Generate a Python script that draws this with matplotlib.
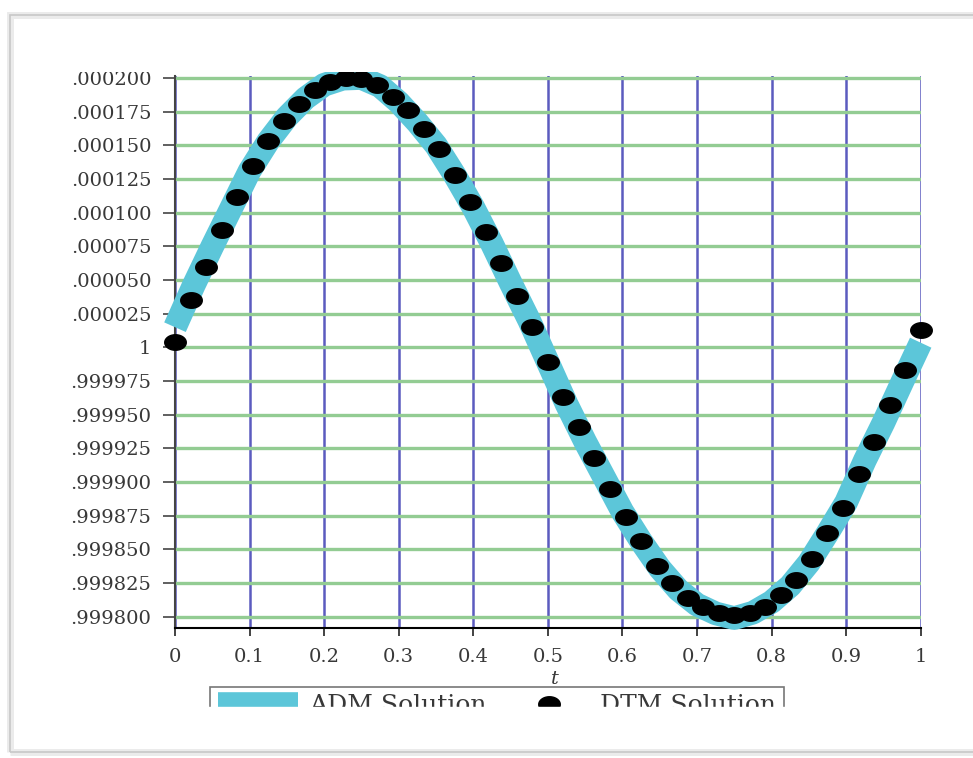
import matplotlib
matplotlib.use("Agg")
import matplotlib.pyplot as plt
import numpy as np
from matplotlib.path import Path
from matplotlib.patches import Rectangle
from matplotlib.transforms import Bbox, TransformedBbox

W, H = 973, 758

# DTM solution: sample times and deviation from 1 (units of 1e-6)
t_dtm = [0.0, 0.0208, 0.0417, 0.0625, 0.0833, 0.1042, 0.125, 0.1458, 0.1667,
         0.1875, 0.2083, 0.2292, 0.25, 0.2708, 0.2917, 0.3125, 0.3333, 0.3542,
         0.375, 0.3958, 0.4167, 0.4375, 0.4583, 0.4792, 0.5, 0.5208, 0.5417,
         0.5625, 0.5833, 0.6042, 0.625, 0.6458, 0.6667, 0.6875, 0.7083, 0.7292,
         0.75, 0.7708, 0.7917, 0.8125, 0.8333, 0.8542, 0.875, 0.8958, 0.9167,
         0.9375, 0.9583, 0.9792, 1.0]
dtm_dev = [4, 35, 60, 87, 112, 135, 153, 168, 181, 191, 197, 200, 199.5, 195,
           186, 176, 162, 147, 128, 108, 86, 63, 38, 15, -11, -37, -59, -82,
           -105, -126, -144, -162, -175, -186, -193, -197.5, -199, -197.5, -193,
           -184, -173, -157, -138, -119, -94, -70, -43, -16.5, 13]

# ADM solution, deviation from 1 (units of 1e-6)
t_adm = [0.0, 0.025, 0.05, 0.075, 0.1, 0.125, 0.15, 0.175, 0.2, 0.225, 0.25,
         0.275, 0.3, 0.325, 0.35, 0.375, 0.4, 0.425, 0.45, 0.475, 0.5,
         0.525, 0.55, 0.575, 0.6, 0.625, 0.65, 0.675, 0.7, 0.725, 0.75,
         0.775, 0.8, 0.825, 0.85, 0.875, 0.9, 0.925, 0.95, 0.975, 1.0]
adm_dev = [15, 46, 75, 103, 131, 153, 171, 185, 195, 199.5, 200,
           194, 182, 167, 150, 128, 104, 77, 48, 20, -11,
           -42, -70, -96, -122, -144, -164, -180, -191, -197.5, -201,
           -197, -189, -177, -160, -138, -115, -84, -56, -26, 3.5]

y_ticks = [0.9998, 0.999825, 0.99985, 0.999875, 0.9999, 0.999925, 0.99995,
           0.999975, 1.0, 1.000025, 1.00005, 1.000075, 1.0001, 1.000125,
           1.00015, 1.000175, 1.0002]
y_labels = [".999800", ".999825", ".999850", ".999875", ".999900", ".999925",
            ".999950", ".999975", "1", ".000025", ".000050", ".000075",
            ".000100", ".000125", ".000150", ".000175", ".000200"]
x_ticks = [0, 0.1, 0.2, 0.3, 0.4, 0.5, 0.6, 0.7, 0.8, 0.9, 1.0]
x_labels = ["0", "0.1", "0.2", "0.3", "0.4", "0.5", "0.6", "0.7", "0.8", "0.9", "1"]

CYAN = "#5cc6d9"
GREEN = "#93cc93"
BLUE = "#5b5bbf"
TXT = "#383838"

plt.rcParams["font.family"] = ["DejaVu Serif"]

fig = plt.figure(figsize=(W / 100, H / 100), dpi=100)
ax = fig.add_axes([175 / W, 1 - 628.3 / H, 745.7 / W, 552.3 / H])

adm = 1 + np.array(adm_dev) * 1e-6
dtm = 1 + np.array(dtm_dev) * 1e-6

th = np.linspace(0, 2 * np.pi, 60)
ellipse = Path(np.column_stack([np.cos(th), 0.72 * np.sin(th)]), closed=True)

ln_adm, = ax.plot(t_adm, adm, color=CYAN, lw=17, solid_capstyle="butt",
                  solid_joinstyle="round", zorder=3, label="ADM Solution")
ln_dtm, = ax.plot(t_dtm, dtm, ls="none", marker=ellipse, ms=15.5,
                  color="black", zorder=4, label="DTM Solution")

# the source image is cropped just above the top gridline
clipbb = TransformedBbox(Bbox([[0, 0], [1, 1 - 72 / H]]), fig.transFigure)
for ln in (ln_adm, ln_dtm):
    ln.set_clip_path(None)
    ln.set_clip_box(clipbb)

ax.set_xlim(0, 1)
ax.set_ylim(0.99979142, 1.0002015)
ax.set_xticks(x_ticks, x_labels)
ax.set_yticks(y_ticks, y_labels)

ax.xaxis.grid(True, color=BLUE, lw=1.8)
ax.yaxis.grid(True, color=GREEN, lw=2.4)
ax.set_axisbelow(True)

for s in ("top", "right"):
    ax.spines[s].set_visible(False)
ax.spines["left"].set_color("#444444")
ax.spines["left"].set_linewidth(1.5)
ax.spines["bottom"].set_color("black")
ax.spines["bottom"].set_linewidth(1.5)

ax.tick_params(axis="y", direction="out", length=9, width=1.2, pad=8,
               labelsize=14, colors="#444444", labelcolor=TXT)
ax.tick_params(axis="x", direction="out", length=6, width=1.2, pad=8,
               labelsize=14, colors="#222222", labelcolor=TXT)

top_lbl = ax.yaxis.get_major_ticks()[-1].label1
top_lbl.set_clip_on(True)
top_lbl.set_clip_box(clipbb)

fig.text(555 / W, 1 - 679 / H, "t", style="italic", fontsize=14,
         ha="center", va="center", color=TXT)

leg = fig.legend(handles=[ln_adm, ln_dtm], loc="upper left",
                 bbox_to_anchor=(210 / W, 1 - 687 / H), ncol=2, fontsize=18,
                 frameon=True, fancybox=False, edgecolor="#555555",
                 handlelength=3.2, handletextpad=0.45, columnspacing=0.9,
                 borderpad=0.3, borderaxespad=0, labelcolor=TXT)
leg.get_frame().set_linewidth(1.2)

# legend is cut off by the bottom of the source image
fig.add_artist(Rectangle((200 / W, 1 - 749 / H), 620 / W, 42 / H,
                         transform=fig.transFigure, color="white", zorder=10))

# outer frame with faint shadow
fig.add_artist(Rectangle((10 / W, 1 - 752 / H), 1000 / W, 737 / H, fill=False,
                         ec="#ebebeb", lw=5, transform=fig.transFigure, zorder=11))
fig.add_artist(Rectangle((10 / W, 1 - 752 / H), 1000 / W, 737 / H, fill=False,
                         ec="#c8c8c8", lw=1.2, transform=fig.transFigure, zorder=12))

fig.savefig("out.png", dpi=100)
